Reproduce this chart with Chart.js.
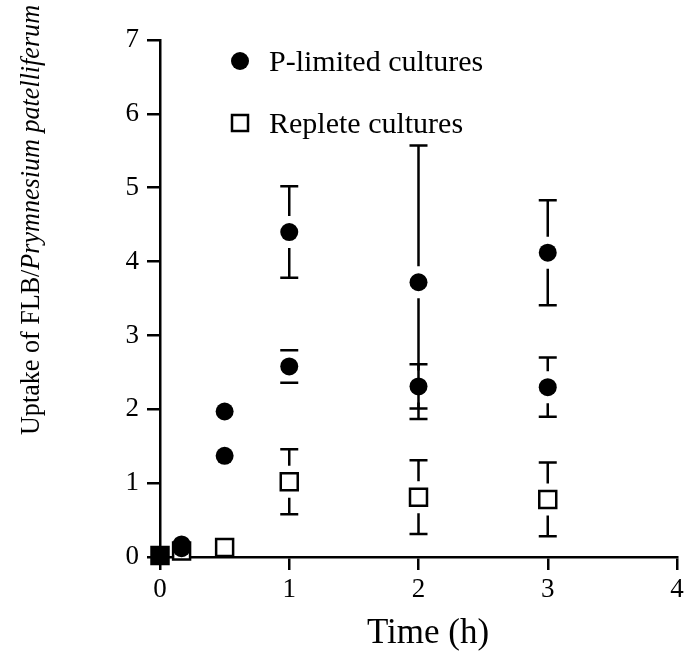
<!DOCTYPE html>
<html>
<head>
<meta charset="utf-8">
<script src="https://cdn.jsdelivr.net/npm/chart.js@4"></script>
<style>
  html, body { margin: 0; padding: 0; background: #fff; }
  #wrap { width: 687px; height: 652px; }
</style>
</head>
<body>
<div id="wrap"><canvas id="uptakeChart" width="687" height="652"></canvas></div>
<script>
// sampling times (h)
const times = [0, 0.167, 0.5, 1, 2, 3];

// P-limited cultures, two experiments
const pLimitedA = [0.02, 0.17, 1.97, 4.40, 3.72, 4.12];
const pLimitedAErr = [0, 0, 0, 0.62, 1.85, 0.71];
const pLimitedB = [0.02, 0.12, 1.37, 2.58, 2.31, 2.30];
const pLimitedBErr = [0, 0, 0, 0.22, 0.30, 0.40];

// replete cultures
const replete = [0.02, 0.08, 0.13, 1.02, 0.81, 0.78];
const repleteErr = [0, 0, 0, 0.44, 0.50, 0.50];

const xTicks = [0, 1, 2, 3, 4];
const yTicks = [0, 1, 2, 3, 4, 5, 6, 7];

const SERIF = "'Liberation Serif', 'Times New Roman', serif";

function toPoints(ys, errs) {
  return times.map((t, i) => ({ x: t, y: ys[i], err: errs[i] }));
}

// vertical error bars with caps, leaving a small gap around the marker
const errorBars = {
  id: "errorBars",
  beforeDatasetsDraw(chart) {
    const { ctx, scales } = chart;
    ctx.save();
    ctx.strokeStyle = "#000";
    ctx.lineWidth = 2.5;
    chart.data.datasets.forEach((ds) => {
      ds.data.forEach((p) => {
        if (!p.err) return;
        const px = scales.x.getPixelForValue(p.x);
        const py = scales.y.getPixelForValue(p.y);
        const top = scales.y.getPixelForValue(p.y + p.err);
        const bot = scales.y.getPixelForValue(p.y - p.err);
        const gap = 16;
        ctx.beginPath();
        if (py - gap > top) {
          ctx.moveTo(px, py - gap);
          ctx.lineTo(px, top);
        }
        if (py + gap < bot) {
          ctx.moveTo(px, py + gap);
          ctx.lineTo(px, bot);
        }
        ctx.moveTo(px - 9, top);
        ctx.lineTo(px + 9, top);
        ctx.moveTo(px - 9, bot);
        ctx.lineTo(px + 9, bot);
        ctx.stroke();
      });
    });
    ctx.restore();
  },
};

// legend inside the plot and the axis titles
const decorations = {
  id: "decorations",
  afterDraw(chart) {
    const { ctx } = chart;
    ctx.save();
    ctx.fillStyle = "#000";
    ctx.strokeStyle = "#000";

    // legend
    ctx.font = "30px " + SERIF;
    ctx.textBaseline = "middle";
    ctx.textAlign = "left";
    ctx.beginPath();
    ctx.arc(240, 61, 9, 0, Math.PI * 2);
    ctx.fill();
    ctx.fillText(chart.data.datasets[0].label, 269, 63);

    ctx.lineWidth = 2.5;
    ctx.strokeRect(232, 115, 16, 16);
    ctx.fillText(chart.data.datasets[2].label, 269, 125);

    // x title
    ctx.font = "35px " + SERIF;
    ctx.textAlign = "center";
    ctx.textBaseline = "alphabetic";
    ctx.fillText("Time (h)", 428, 643);

    // y title, plain + italic part, slightly condensed to fit the height
    const part1 = "Uptake of FLB/";
    const part2 = "Prymnesium patelliferum";
    ctx.font = "28px " + SERIF;
    const w1 = ctx.measureText(part1).width;
    ctx.font = "italic 28px " + SERIF;
    const w2 = ctx.measureText(part2).width;
    const squeeze = 430 / (w1 + w2);
    ctx.translate(39, 220);
    ctx.rotate(-Math.PI / 2);
    ctx.scale(squeeze, 1);
    ctx.textAlign = "left";
    const start = -(w1 + w2) / 2;
    ctx.font = "28px " + SERIF;
    ctx.fillText(part1, start, 0);
    ctx.font = "italic 28px " + SERIF;
    ctx.fillText(part2, start + w1, 0);
    ctx.restore();
  },
};

new Chart(document.getElementById("uptakeChart"), {
  type: "scatter",
  data: {
    datasets: [
      {
        label: "P-limited cultures",
        data: toPoints(pLimitedA, pLimitedAErr),
        pointStyle: "circle",
        pointRadius: 9,
        pointBackgroundColor: "#000",
        pointBorderWidth: 0,
        clip: false,
        order: 1,
      },
      {
        label: "P-limited cultures",
        data: toPoints(pLimitedB, pLimitedBErr),
        pointStyle: "circle",
        pointRadius: 9,
        pointBackgroundColor: "#000",
        pointBorderWidth: 0,
        clip: false,
        order: 1,
      },
      {
        label: "Replete cultures",
        data: toPoints(replete, repleteErr),
        pointStyle: "rect",
        pointRadius: 12,
        pointBackgroundColor: times.map((t) => (t === 0 ? "#000" : "#fff")),
        pointBorderColor: "#000",
        pointBorderWidth: 2.5,
        clip: false,
        order: 2,
      },
    ],
  },
  options: {
    responsive: false,
    animation: false,
    layout: {
      autoPadding: false,
      padding: { top: 40, right: 10, left: 0, bottom: 0 },
    },
    plugins: {
      legend: { display: false },
      tooltip: { enabled: false },
    },
    scales: {
      x: {
        type: "linear",
        min: 0,
        max: 4,
        afterBuildTicks: (scale) => {
          scale.ticks = xTicks.map((v) => ({ value: v }));
        },
        afterFit: (scale) => {
          scale.height = 95;
          scale.paddingLeft = 0;
          scale.paddingRight = 0;
        },
        grid: {
          display: true,
          drawOnChartArea: false,
          color: "#000",
          lineWidth: 2.5,
          tickLength: 13,
        },
        border: { display: true, color: "#000", width: 2.5 },
        ticks: {
          color: "#000",
          padding: 4,
          font: { family: SERIF, size: 27 },
        },
      },
      y: {
        type: "linear",
        min: 0,
        max: 7,
        afterBuildTicks: (scale) => {
          scale.ticks = yTicks.map((v) => ({ value: v }));
        },
        afterFit: (scale) => {
          scale.width = 160;
        },
        grid: {
          display: true,
          drawOnChartArea: false,
          color: "#000",
          lineWidth: 2.5,
          tickLength: 13,
        },
        border: { display: true, color: "#000", width: 2.5 },
        ticks: {
          color: "#000",
          padding: 8,
          font: { family: SERIF, size: 27 },
        },
      },
    },
  },
  plugins: [errorBars, decorations],
});
</script>
</body>
</html>
